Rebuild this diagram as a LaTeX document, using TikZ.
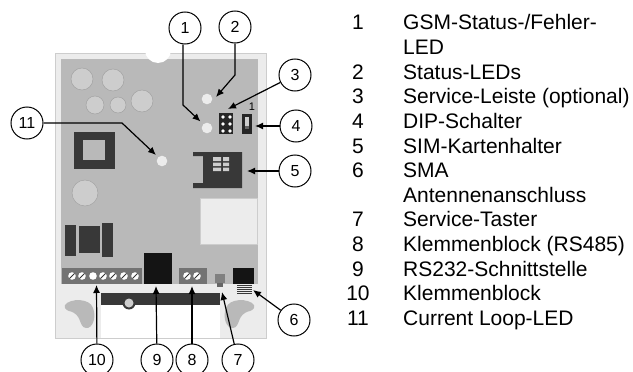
\documentclass[tikz,border=0pt]{standalone}
\usepackage{fontspec}
\setmainfont{Liberation Sans}
\usetikzlibrary{arrows.meta}
\usetikzlibrary{positioning}
\definecolor{housing}{HTML}{ECECEC}
\definecolor{board}{HTML}{B9B9B9}
\definecolor{part}{HTML}{383838}
\definecolor{pale}{HTML}{CDCDCD}
\tikzset{
    callout/.style = {circle, draw, fill = white, line width = 1pt, minimum size = 32pt, inner sep = 0pt, font = \fontsize{16}{16}\selectfont},
    leader/.style = {-{Latex[length = 8pt, width = 7pt]}, line width = 1.2pt},
    listnum/.style = {anchor = base, inner sep = 0pt, font = \fontsize{21}{21}\selectfont},
    listtext/.style = {anchor = base west, inner sep = 0pt, font = \fontsize{21}{21}\selectfont}
}
\begin{document}
\begin{tikzpicture}[x = 1pt, y = -1pt]
    \useasboundingbox (0,0) rectangle (633,372);

    % housing and board
    \fill[housing, draw = pale] (55,53) rectangle (266,338);
    \fill[board] (61,59) rectangle (258,284);
    \fill[white] (158,50) circle (13);
    \fill[white] (140,40) rectangle (176,52.6);
    \fill[white] (101,293) rectangle (220,338);
    \fill[part] (101,293) rectangle (220,305);
    \fill[part] (129,303) circle (6.5);
    \fill[pale] (129,303) circle (4.5);

    % round parts
    \foreach \cx/\cy/\cr in {82/79/11, 113/80/11, 95/105/9, 118/105/8, 142/101/11, 85/193/13}
        \fill[pale, draw = board!85!black] (\cx,\cy) circle (\cr);

    % leds
    \fill[housing] (207,99) circle (5.3);
    \fill[housing] (207,128) circle (5.3);
    \fill[housing] (162,161) circle (5.3);

    % transformer and coils
    \fill[part] (74,132) rectangle (115,169);
    \fill[board] (83,140) rectangle (105,160);
    \fill[part] (65,225) rectangle (76,256);
    \fill[part] (79,226) rectangle (100,253);
    \fill[part] (102,223) rectangle (113,257);

    % service header
    \fill[black!85] (219,113) rectangle (233,134);
    \foreach \cx in {223,230}
        \foreach \cy in {117,124,131}
            \fill[white] (\cx,\cy) circle (1.8);

    % dip switch
    \fill[black!85] (242,114) rectangle (252,134);
    \fill[pale] (245,117) rectangle (249,126);
    \fill[black!60] (245,126) rectangle (249,129);
    \node (dipone) at (252,107) {\fontsize{11}{11}\selectfont 1};

    % sim holder
    \fill[part] (193,152) -- (242,152) -- (242,188) -- (193,188) -- (193,183) -- (203,183) -- (203,156) -- (193,156) -- cycle;
    \foreach \cy/\ch in {157/4,162.5/3.5,167.5/3.5}
        \fill[pale] (213,\cy) rectangle (221,\cy+\ch) (223,\cy) rectangle (229,\cy+\ch);

    % white field
    \fill[housing, draw = pale] (200,198) rectangle (257,244);

    % terminals
    \fill[black!55] (62,268) rectangle (142,284);
    \fill[black!55] (179,268) rectangle (207,284);
    \foreach \cx in {72,82,103,113,124,135,187,197} {
        \fill[white] (\cx,276) circle (3.8);
        \draw[black!80, line width = 0.9pt] (\cx-2.6,278.6) -- (\cx+2.6,273.4);
    }
    \fill[white] (93,276) circle (3.8);

    % rs232, button, sma
    \fill[black!92] (144,253) rectangle (172,284);
    \fill[black!50] (215,274) rectangle (225,283);
    \fill[black!60] (217,283) rectangle (223,287);
    \fill[black!92] (233,268) rectangle (254,284);
    \foreach \cy in {285,287,...,294}
        \draw[part, line width = 1pt] (237,\cy) -- (252,\cy);

    % mounting ears
    \fill[board] (65,305) .. controls (70,298) and (90,298) .. (93,308) .. controls (97,318) and (92,329) .. (86,328) .. controls (78,327) and (83,314) .. (69,311) .. controls (66,310) and (64,308) .. (65,305) -- cycle;
    \fill[board] (254,305) .. controls (249,298) and (229,298) .. (226,308) .. controls (222,318) and (227,329) .. (233,328) .. controls (241,327) and (236,314) .. (250,311) .. controls (253,310) and (255,308) .. (254,305) -- cycle;

    % leader targets
    \coordinate (led1) at (200.5,121.5);
    \coordinate (led2) at (216,97);
    \coordinate (header) at (228,109);
    \coordinate (dip) at (255,126);
    \coordinate (sim) at (247,171);
    \coordinate (sma) at (253,290);
    \coordinate (taster) at (222,292);
    \coordinate (klemme) at (192,286);
    \coordinate (rs) at (156,286);
    \coordinate (block) at (96.5,285);
    \coordinate (loop) at (156,155);

    % callouts
    \node (c1) at (185,28) [callout] {1};
    \node (c2) at (235,27) [callout] {2};
    \node (c3) at (295,75) [callout] {3};
    \node (c4) at (296,126) [callout] {4};
    \node (c5) at (295,171) [callout] {5};
    \node (c6) at (294,320) [callout] {6};
    \node (c7) at (238,360) [callout] {7};
    \node (c8) at (192,360) [callout] {8};
    \node (c9) at (157,360) [callout] {9};
    \node (c10) at (97,360) [callout] {10};
    \node (c11) at (27,123) [callout] {11};

    \draw[leader] (c1.south -| 183,0) -- (183,105) -- (led1);
    \draw[leader] (c2) -- (235,75) -- (led2);
    \draw[leader] (c3) -- (header);
    \draw[leader] (c4) -- (dip);
    \draw[leader] (c5) -- (sim);
    \draw[leader] (c6) -- (sma);
    \draw[leader] (c7) -- (taster);
    \draw[leader] (c8) -- (klemme);
    \draw[leader] (c9) -- (rs);
    \draw[leader] (c10) -- (block);
    \draw[leader] (c11) -- (122,123) -- (loop);

    % list
    \foreach \num/\cy/\txt in {1/30/{GSM-Status-/Fehler-}, 2/79.2/Status-LEDs, 3/103.8/Service-Leiste (optional), 4/128.4/DIP-Schalter, 5/153/SIM-Kartenhalter, 6/177.6/SMA, 7/226.8/Service-Taster, 8/251.4/Klemmenblock (RS485), 9/276/RS232-Schnittstelle, 10/300.6/Klemmenblock, 11/325.2/Current Loop-LED} {
        \node (num\num) at (358,\cy) [listnum] {\num};
        \node (txt\num) at (403,\cy) [listtext] {\txt};
    }
    \node (txtled) at (403,54.6) [listtext] {LED};
    \node (txtant) at (403,202.2) [listtext] {Antennenanschluss};
\end{tikzpicture}
\end{document}
